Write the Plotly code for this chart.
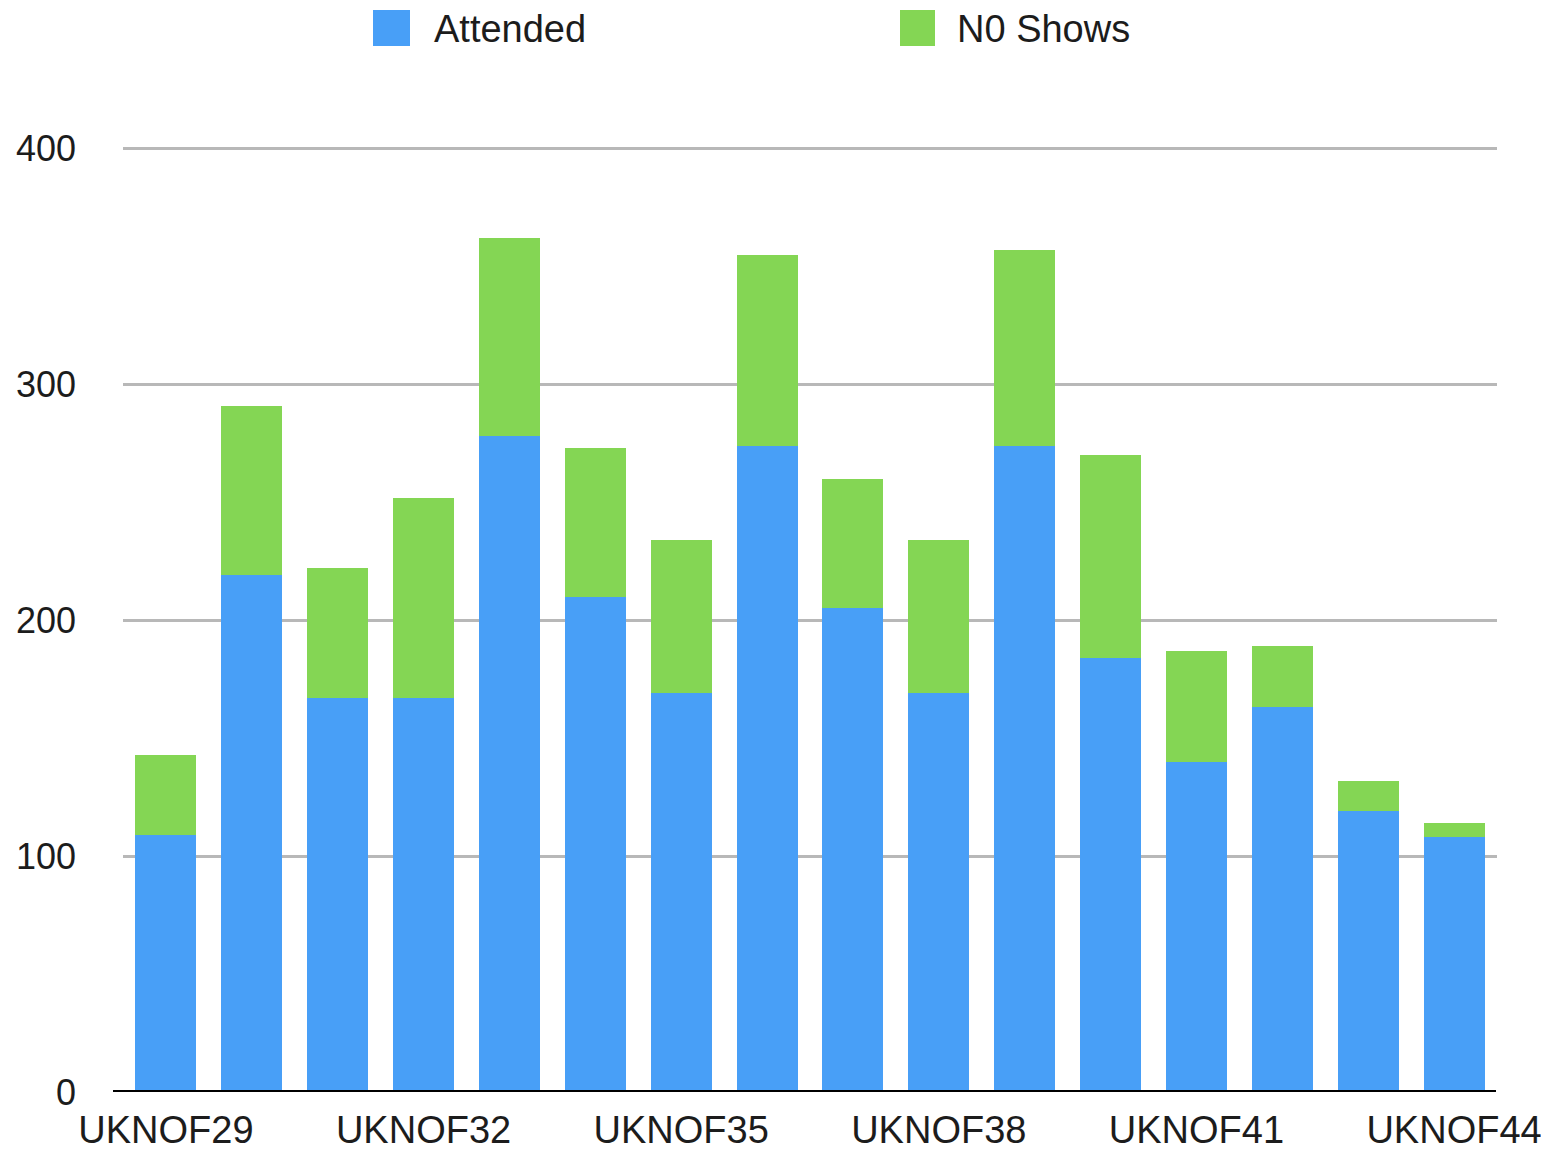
import plotly.graph_objects as go

categories = ["UKNOF29", "UKNOF30", "UKNOF31", "UKNOF32", "UKNOF33", "UKNOF34",
              "UKNOF35", "UKNOF36", "UKNOF37", "UKNOF38", "UKNOF39", "UKNOF40",
              "UKNOF41", "UKNOF42", "UKNOF43", "UKNOF44"]
attended = [109, 219, 167, 167, 278, 210, 169, 274, 205, 169, 274, 184, 140, 163, 119, 108]
no_shows = [34, 72, 55, 85, 84, 63, 65, 81, 55, 65, 83, 86, 47, 26, 13, 6]
y_ticks = [0, 100, 200, 300, 400]
x_ticks = categories[::3]

BLUE = "#489FF7"
GREEN = "#84D654"
FONT = "Liberation Sans, Arial, Helvetica, sans-serif"
TXT = "#1c1c1c"

OFF = 8  # page body margin
W, H = 1549 - OFF, 1151 - OFF
ML, MR, MT, MB = 123 - OFF, 52, 138, 59
PW, PH = W - ML - MR, H - MT - MB

def px(x):  # screen x -> paper
    return (x - OFF - ML) / PW

def py(y):  # screen y -> paper
    return (H - MB - (y - OFF)) / PH

fig = go.Figure()
fig.add_trace(go.Bar(name="Attended", x=categories, y=attended,
                     marker=dict(color=BLUE, line=dict(width=0))))
fig.add_trace(go.Bar(name="N0 Shows", x=categories, y=no_shows,
                     marker=dict(color=GREEN, line=dict(width=0))))

shapes = [
    dict(type="line", xref="paper", yref="y", x0=px(113), x1=px(1496), y0=0, y1=0,
         line=dict(color="black", width=4), layer="above"),
    dict(type="rect", xref="paper", yref="paper", x0=px(373), x1=px(410),
         y0=py(46), y1=py(10), fillcolor=BLUE, line=dict(width=0)),
    dict(type="rect", xref="paper", yref="paper", x0=px(900), x1=px(935),
         y0=py(46), y1=py(10), fillcolor=GREEN, line=dict(width=0)),
]
annotations = [
    dict(text="Attended", xref="paper", yref="paper", x=px(432), y=py(29),
         xanchor="left", yanchor="middle", showarrow=False,
         font=dict(family=FONT, size=38, color=TXT)),
    dict(text="N0 Shows", xref="paper", yref="paper", x=px(955), y=py(29),
         xanchor="left", yanchor="middle", showarrow=False,
         font=dict(family=FONT, size=38, color=TXT)),
]

fig.update_layout(
    width=W, height=H,
    barmode="stack", bargap=0.29,
    paper_bgcolor="white", plot_bgcolor="white",
    margin=dict(l=ML, r=MR, t=MT, b=MB, pad=0, autoexpand=False),
    showlegend=False,
    shapes=shapes, annotations=annotations,
    font=dict(family=FONT, size=36, color=TXT),
)
fig.update_xaxes(
    type="category", range=[-0.5, len(categories) - 0.5],
    tickmode="array", tickvals=x_ticks, ticktext=x_ticks,
    showgrid=False, showline=False, zeroline=False, ticks="",
    ticklabelstandoff=12, automargin=False,
    tickfont=dict(family=FONT, size=38, color=TXT),
)
fig.update_yaxes(
    range=[0, 401], tickmode="array", tickvals=y_ticks,
    showgrid=True, gridcolor="#b8b8b8", gridwidth=3,
    zeroline=False, showline=False, ticks="",
    ticklabelstandoff=46, automargin=False,
    tickfont=dict(family=FONT, size=36, color=TXT),
)

fig.write_html("out.html")
